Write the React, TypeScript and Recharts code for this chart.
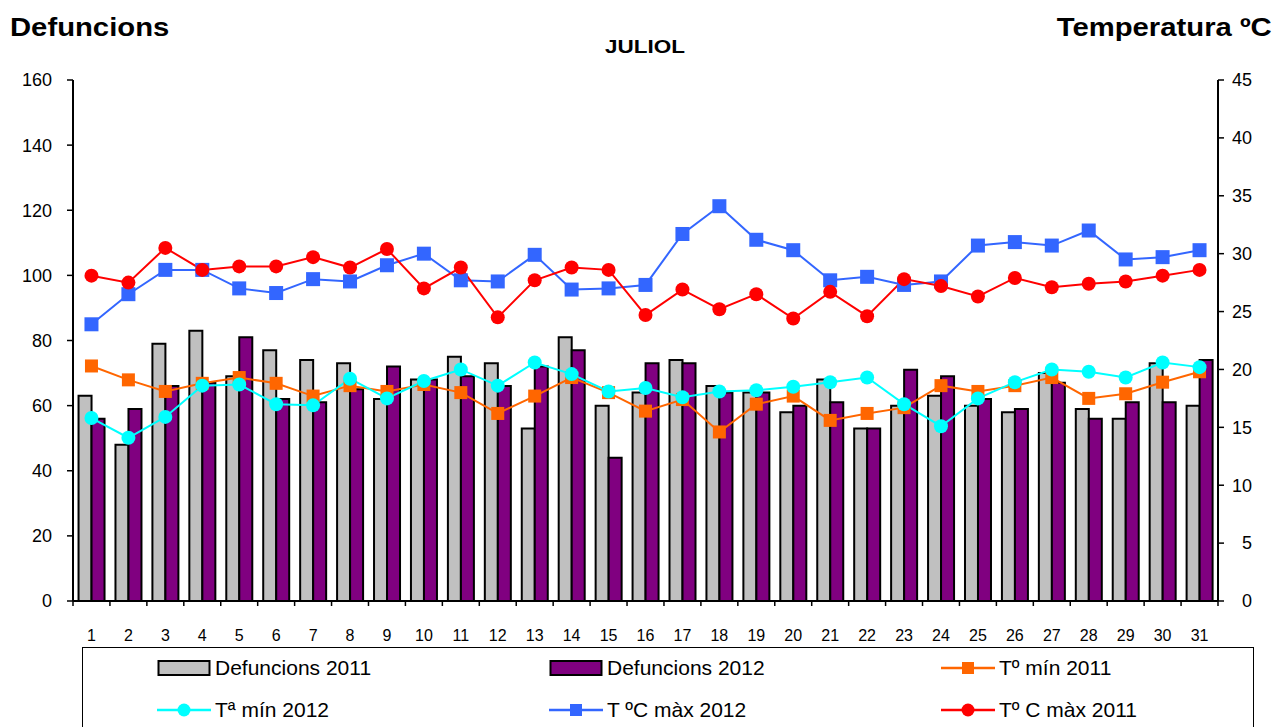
import { Bar, ComposedChart, Line, XAxis, YAxis } from 'recharts'

const days = ['1', '2', '3', '4', '5', '6', '7', '8', '9', '10', '11', '12', '13', '14', '15', '16',
  '17', '18', '19', '20', '21', '22', '23', '24', '25', '26', '27', '28', '29', '30', '31']

const defuncions2011 = [63, 48, 79, 83, 69, 77, 74, 73, 62, 68, 75, 73, 53, 81, 60, 64, 74, 66, 64, 58, 68, 53, 60, 63, 60, 58, 70, 59, 56, 73, 60]
const defuncions2012 = [56, 59, 66, 67, 81, 62, 61, 65, 72, 68, 69, 66, 72, 77, 44, 73, 73, 64, 64, 60, 61, 53, 71, 69, 62, 59, 67, 56, 61, 61, 74]

const tMin2011 = [20.3, 19.1, 18.1, 18.8, 19.3, 18.8, 17.7, 18.6, 18.1, 18.7, 18.0, 16.2, 17.7, 19.3, 18.0, 16.4, 17.4, 14.6, 17.0, 17.7, 15.6, 16.2, 16.7, 18.6, 18.1, 18.6, 19.3, 17.5, 17.9, 18.9, 19.8]
const tMin2012 = [15.8, 14.1, 15.9, 18.6, 18.7, 17.0, 16.9, 19.2, 17.5, 19.0, 20.0, 18.6, 20.6, 19.6, 18.1, 18.4, 17.6, 18.1, 18.2, 18.5, 18.9, 19.3, 17.0, 15.1, 17.5, 18.9, 20.0, 19.8, 19.3, 20.6, 20.2]
const tMax2012 = [23.9, 26.5, 28.6, 28.6, 27.0, 26.6, 27.8, 27.6, 29.0, 30.0, 27.7, 27.6, 29.9, 26.9, 27.0, 27.3, 31.7, 34.1, 31.2, 30.3, 27.7, 28.0, 27.3, 27.6, 30.7, 31.0, 30.7, 32.0, 29.5, 29.7, 30.3]
const tMax2011 = [28.1, 27.5, 30.5, 28.6, 28.9, 28.9, 29.7, 28.8, 30.4, 27.0, 28.8, 24.5, 27.7, 28.8, 28.6, 24.7, 26.9, 25.2, 26.5, 24.4, 26.7, 24.6, 27.8, 27.2, 26.3, 27.9, 27.1, 27.4, 27.6, 28.1, 28.6]

const leftTicks = [0, 20, 40, 60, 80, 100, 120, 140, 160]
const rightTicks = [0, 5, 10, 15, 20, 25, 30, 35, 40, 45]

const chartData = days.map((day, i) => ({
  day,
  d2011: defuncions2011[i],
  d2012: defuncions2012[i],
  tmin2011: tMin2011[i],
  tmin2012: tMin2012[i],
  tmax2012: tMax2012[i],
  tmax2011: tMax2011[i],
}))

const FONT = '"Liberation Sans", Arial, sans-serif'
const W = 1276
const H = 727
const PLOT_LEFT = 73
const PLOT_RIGHT = 1218
const PLOT_BOTTOM = 601
const BAND = (PLOT_RIGHT - PLOT_LEFT) / days.length

const C_GRAY = '#C0C0C0'
const C_PURPLE = '#800080'
const C_ORANGE = '#FF6600'
const C_CYAN = '#00FFFF'
const C_BLUE = '#3366FF'
const C_RED = '#FF0000'

const squareDot = (color: string, size: number) => (props: any) => {
  const { cx, cy, index } = props
  if (cx == null || cy == null) return <g key={index} />
  return <rect key={index} x={cx - size / 2} y={cy - size / 2} width={size} height={size} fill={color} />
}

const circleDot = (color: string, r: number) => (props: any) => {
  const { cx, cy, index } = props
  if (cx == null || cy == null) return <g key={index} />
  return <circle key={index} cx={cx} cy={cy} r={r} fill={color} />
}

function DayTick(props: any) {
  const { x, payload, index } = props
  const left = x - BAND / 2
  return (
    <g>
      <line x1={left} y1={PLOT_BOTTOM} x2={left} y2={PLOT_BOTTOM + 5} stroke="#000" strokeWidth={1.5} />
      {index === days.length - 1 && (
        <line x1={x + BAND / 2} y1={PLOT_BOTTOM} x2={x + BAND / 2} y2={PLOT_BOTTOM + 5} stroke="#000" strokeWidth={1.5} />
      )}
      <text x={x} y={PLOT_BOTTOM + 40} textAnchor="middle" fontSize={16} fontFamily={FONT} fill="#000">
        {payload.value}
      </text>
    </g>
  )
}

function RightTick(props: any) {
  const { y, payload } = props
  return (
    <text x={1252} y={y} dy="0.35em" textAnchor="end" fontSize={18} fontFamily={FONT} fill="#000">
      {payload.value}
    </text>
  )
}

function LegendMarker({ kind, color }: { kind: 'bar' | 'square' | 'circle'; color: string }) {
  return (
    <svg width={54} height={20} style={{ display: 'block' }}>
      {kind === 'bar' ? (
        <rect x={1.5} y={3} width={51} height={14} fill={color} stroke="#000" strokeWidth={2} />
      ) : (
        <>
          <line x1={0} y1={10} x2={54} y2={10} stroke={color} strokeWidth={2.5} />
          {kind === 'square' ? (
            <rect x={21} y={4} width={12} height={12} fill={color} />
          ) : (
            <circle cx={27} cy={10} r={6.5} fill={color} />
          )}
        </>
      )}
    </svg>
  )
}

const legendItems = [
  { label: 'Defuncions 2011', kind: 'bar' as const, color: C_GRAY, col: 0, row: 0 },
  { label: 'Defuncions 2012', kind: 'bar' as const, color: C_PURPLE, col: 1, row: 0 },
  { label: 'Tº mín 2011', kind: 'square' as const, color: C_ORANGE, col: 2, row: 0 },
  { label: 'Tª mín 2012', kind: 'circle' as const, color: C_CYAN, col: 0, row: 1 },
  { label: 'T ºC màx 2012', kind: 'square' as const, color: C_BLUE, col: 1, row: 1 },
  { label: 'Tº C màx 2011', kind: 'circle' as const, color: C_RED, col: 2, row: 1 },
]
const legendCols = [157, 549, 941]
const legendRows = [668, 710]

export default function App() {
  return (
    <div style={{ position: 'absolute', left: 0, top: 0, width: W, height: H, overflow: 'hidden', background: '#fff', fontFamily: FONT }}>
      <ComposedChart
        width={W}
        height={H}
        data={chartData}
        margin={{ top: 80, right: 0, bottom: 96, left: 0 }}
        barCategoryGap="15%"
        barGap={0}
      >
        <XAxis
          dataKey="day"
          height={30}
          tick={<DayTick />}
          tickLine={false}
          interval={0}
          axisLine={{ stroke: '#000', strokeWidth: 2 }}
        />
        <XAxis
          xAxisId="top"
          orientation="top"
          dataKey="day"
          height={0}
          tick={false}
          tickLine={false}
          axisLine={{ stroke: '#000', strokeWidth: 1.5 }}
        />
        <YAxis
          yAxisId="left"
          width={PLOT_LEFT}
          domain={[0, 160]}
          ticks={leftTicks}
          interval={0}
          tickSize={6}
          tickMargin={15}
          tick={{ fill: '#000', fontSize: 18, fontFamily: FONT }}
          tickLine={{ stroke: '#000', strokeWidth: 1.5 }}
          axisLine={{ stroke: '#000', strokeWidth: 2 }}
        />
        <YAxis
          yAxisId="right"
          orientation="right"
          width={W - PLOT_RIGHT}
          domain={[0, 45]}
          ticks={rightTicks}
          interval={0}
          tickSize={6}
          tick={<RightTick />}
          tickLine={{ stroke: '#000', strokeWidth: 1.5 }}
          axisLine={{ stroke: '#000', strokeWidth: 2 }}
        />
        <Bar yAxisId="left" dataKey="d2011" fill={C_GRAY} stroke="#000" strokeWidth={2} isAnimationActive={false} />
        <Bar yAxisId="left" dataKey="d2012" fill={C_PURPLE} stroke="#000" strokeWidth={2} isAnimationActive={false} />
        <Line yAxisId="right" dataKey="tmin2011" stroke={C_ORANGE} strokeWidth={2} dot={squareDot(C_ORANGE, 13)} activeDot={false} isAnimationActive={false} />
        <Line yAxisId="right" dataKey="tmin2012" stroke={C_CYAN} strokeWidth={2} dot={circleDot(C_CYAN, 7)} activeDot={false} isAnimationActive={false} />
        <Line yAxisId="right" dataKey="tmax2012" stroke={C_BLUE} strokeWidth={2} dot={squareDot(C_BLUE, 14)} activeDot={false} isAnimationActive={false} />
        <Line yAxisId="right" dataKey="tmax2011" stroke={C_RED} strokeWidth={2} dot={circleDot(C_RED, 7)} activeDot={false} isAnimationActive={false} />
      </ComposedChart>

      <div style={{ position: 'absolute', left: 10, top: 13, fontSize: 25, fontWeight: 'bold', transform: 'scaleX(1.17)', transformOrigin: 'left center' }}>
        Defuncions
      </div>
      <div style={{ position: 'absolute', right: 4, top: 13, fontSize: 25, fontWeight: 'bold', transform: 'scaleX(1.17)', transformOrigin: 'right center' }}>
        Temperatura ºC
      </div>
      <div style={{ position: 'absolute', left: 0, width: 1290, top: 37, textAlign: 'center', fontSize: 18, fontWeight: 'bold', transform: 'scaleX(1.25)', transformOrigin: '645px center' }}>
        JULIOL
      </div>

      <div style={{ position: 'absolute', left: 82, top: 647, width: 1172, height: 100, border: '1.5px solid #000', boxSizing: 'border-box' }} />
      {legendItems.map((item) => (
        <div
          key={item.label}
          style={{ position: 'absolute', left: legendCols[item.col], top: legendRows[item.row] - 12, height: 24, display: 'flex', alignItems: 'center', gap: 4, fontSize: 21, whiteSpace: 'nowrap' }}
        >
          <LegendMarker kind={item.kind} color={item.color} />
          <span>{item.label}</span>
        </div>
      ))}
    </div>
  )
}
